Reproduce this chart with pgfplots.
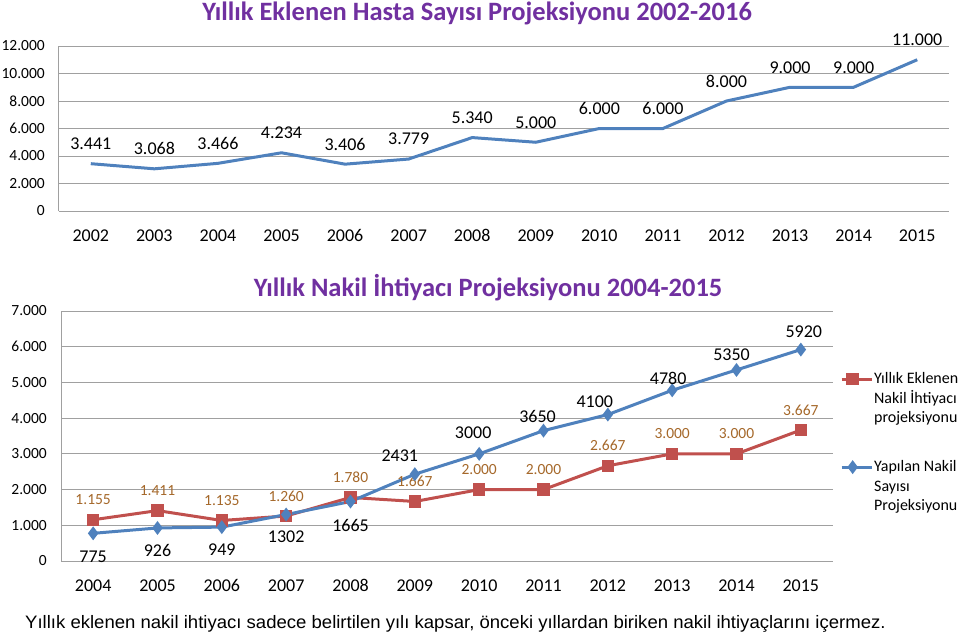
\documentclass[border=0pt]{standalone}
\usepackage{pgfplots}
\pgfplotsset{compat=1.18}
\usepackage{pgfplotstable}
\usepackage{fontspec}
\setmainfont{Carlito}
\newfontfamily\footfont{Liberation Sans}[FakeStretch=1.03]
\definecolor{cblue}{HTML}{4F81BD}
\definecolor{cred}{HTML}{C0504D}
\definecolor{clab}{HTML}{A5682A}
\definecolor{ctitle}{HTML}{7030A0}
\definecolor{cgrid}{HTML}{A0A0A0}

\pgfplotstableread{
x y
0 3441
1 3068
2 3466
3 4234
4 3406
5 3779
6 5340
7 5000
8 6000
9 6000
10 8000
11 9000
12 9000
13 11000
}\hasta

\pgfplotstableread{
x y
0 1155
1 1411
2 1135
3 1260
4 1780
5 1667
6 2000
7 2000
8 2667
9 3000
10 3000
11 3667
}\ihtiyac

\pgfplotstableread{
x y dx dy
0 775 0 -23
1 926 0 -23
2 949 0 -23
3 1302 0 -22
4 1665 0 -24
5 2431 -15 18
6 3000 -6 21
7 3650 -6 14
8 4100 -13 13
9 4780 -4 12
10 5350 -5 15
11 5920 3 18
}\yapilan

\pgfplotsset{
  base/.style={
    scale only axis, clip=false,
    axis x line*=bottom, axis y line*=left,
    axis line style={-, cgrid, line width=1pt},
    ymajorgrids, grid style={cgrid, line width=1pt},
    major tick length=0pt,
    scaled y ticks=false,
    yticklabel style={font=\fontsize{15.5}{18}\selectfont, inner sep=0pt, xshift=-14pt},
    xticklabel style={font=\fontsize{18}{21}\selectfont, inner sep=0pt, anchor=base, yshift=-30pt},
    /pgf/number format/.cd, 1000 sep={.}, assume math mode=true,
  },
}

\begin{document}
\begin{tikzpicture}[x=1pt,y=1pt]
\path[use as bounding box] (0,0) rectangle (960,-634);

% ---------- top chart ----------
\begin{axis}[base,
  at={(59pt,-211pt)}, anchor=south west,
  width=890pt, height=165pt,
  xmin=-0.5, xmax=13.5, ymin=0, ymax=12000,
  xtick={0,...,13},
  xticklabels={2002,2003,2004,2005,2006,2007,2008,2009,2010,2011,2012,2013,2014,2015},
  ytick={0,2000,...,12000},
]
\addplot[cblue, line width=3pt, no markers,
  nodes near coords,
  every node near coord/.append style={anchor=center, yshift=20pt, text=black, font=\fontsize{18}{21}\selectfont},
] table[x=x,y=y] {\hasta};
\end{axis}

\node[anchor=base, font=\fontsize{26.5}{30}\selectfont\bfseries, text=ctitle, inner sep=0pt]
  at (477pt,-21pt) {Yıllık Eklenen Hasta Sayısı Projeksiyonu 2002-2016};

% ---------- bottom chart ----------
\begin{axis}[base,
  at={(61pt,-561pt)}, anchor=south west,
  width=772pt, height=250pt,
  xmin=-0.5, xmax=11.5, ymin=0, ymax=7000,
  xtick={0,...,11},
  xticklabels={2004,2005,2006,2007,2008,2009,2010,2011,2012,2013,2014,2015},
  ytick={0,1000,...,7000},
  legend style={at={(1.009,0.758)}, anchor=north west, draw=none, fill=none,
    inner sep=0pt, column sep=0pt, row sep=34.5pt,
    font=\fontsize{16}{19.5}\selectfont,
    cells={anchor=west, align=left},
    nodes={inner sep=1pt}},
  legend image code/.code={\draw[mark repeat=2,mark phase=2,#1] plot coordinates {(0pt,19.5pt) (11pt,19.5pt) (30pt,19.5pt)};},
]
\addplot[cred, line width=3pt, mark=square*, mark size=4.75pt, mark options={solid},
  nodes near coords,
  every node near coord/.append style={anchor=center, yshift=20pt, text=clab, font=\fontsize{15.5}{18}\selectfont},
] table[x=x,y=y] {\ihtiyac};
\addlegendentry{Yıllık Eklenen\\Nakil İhtiyacı\\projeksiyonu}

\addplot[cblue, line width=3pt, mark=diamond*, mark size=4.5pt, mark options={solid},
  visualization depends on={\thisrow{dx} \as \dx},
  visualization depends on={\thisrow{dy} \as \dy},
  nodes near coords={\pgfmathprintnumber[1000 sep={}]{\pgfplotspointmeta}},
  every node near coord/.append style={anchor=center, xshift=\dx pt, yshift=\dy pt, text=black, font=\fontsize{18}{21}\selectfont},
] table[x=x,y=y] {\yapilan};
\addlegendentry{Yapılan Nakil\\Sayısı\\Projeksiyonu}
\end{axis}

\node[anchor=base, font=\fontsize{26.5}{30}\selectfont\bfseries, text=ctitle, inner sep=0pt]
  at (488pt,-296pt) {Yıllık Nakil İhtiyacı Projeksiyonu 2004-2015};

\node[anchor=base west, inner sep=0pt, font=\footfont\fontsize{18}{21}\selectfont]
  at (25pt,-628pt) {Yıllık eklenen nakil ihtiyacı sadece belirtilen yılı kapsar, önceki yıllardan biriken nakil ihtiyaçlarını içermez.};
\end{tikzpicture}
\end{document}
